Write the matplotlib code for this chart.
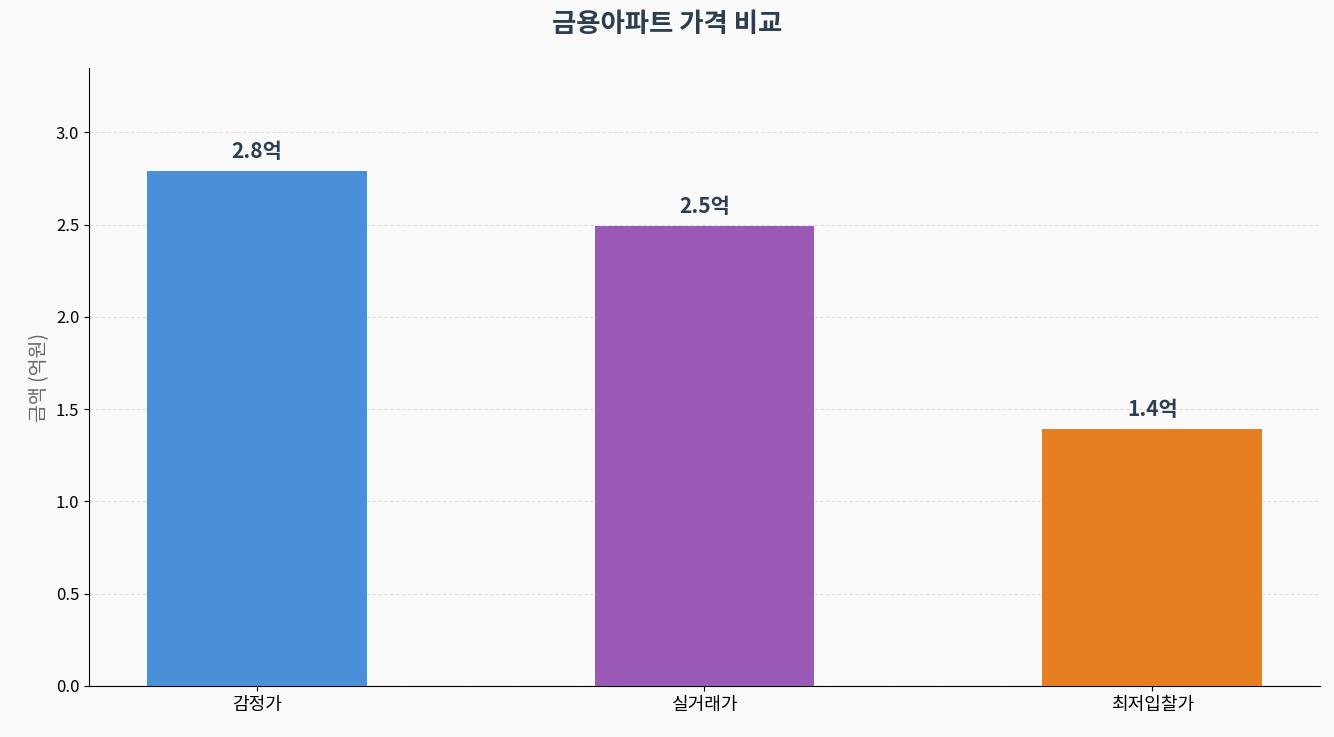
import matplotlib
matplotlib.use("Agg")
import matplotlib.pyplot as plt

plt.rcParams['font.family'] = ['Noto Sans CJK KR', 'DejaVu Sans']

categories = ['감정가', '실거래가', '최저입찰가']
values = [2.79, 2.49, 1.39]
labels = ['2.8억', '2.5억', '1.4억']
colors = ['#4a90d9', '#9b59b6', '#e67e22']

fig = plt.figure(figsize=(13.34, 7.37), dpi=100, facecolor='#f9f9f9')
ax = fig.add_axes([89/1334, 1-686/737, (1320-89)/1334, (686-68)/737])
ax.set_facecolor('#f9f9f9')
x = range(len(categories))
ax.bar(x, values, width=0.49, color=colors, zorder=3)
for i, (v, l) in enumerate(zip(values, labels)):
    ax.text(i, v + 0.05, l, ha='center', va='bottom', fontsize=15, fontweight='bold', color='#2c3e50')
ax.set_xticks(list(x))
ax.set_xticklabels(categories, fontsize=13)
ax.set_ylim(0, max(values) * 1.2)
ax.set_xlim(-0.375, 2.375)
ax.tick_params(axis='y', labelsize=12)
ax.set_ylabel('금액 (억원)', fontsize=14, color='#666666')
ax.grid(axis='y', linestyle='--', color='#dddddd', alpha=0.8, zorder=0)
ax.spines['top'].set_visible(False)
ax.spines['right'].set_visible(False)
fig.suptitle('금용아파트 가격 비교', fontsize=19, fontweight='bold', color='#2c3e50', y=0.985)
fig.savefig('out.png', dpi=100, facecolor=fig.get_facecolor())
